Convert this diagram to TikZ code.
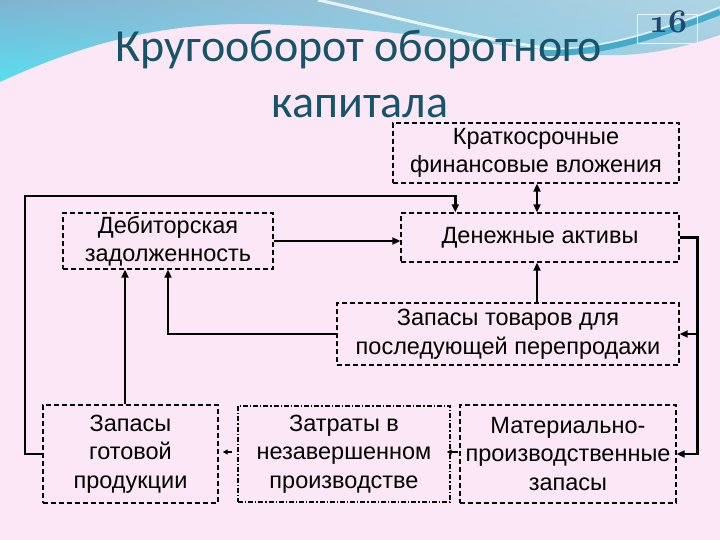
\documentclass[tikz,border=0pt]{standalone}
\usepackage{fontspec}
\usepackage{graphicx}
\setmainfont{Liberation Sans}
\newfontfamily\titlefont{Carlito}
\usetikzlibrary{arrows.meta,shadings}
\definecolor{bgpink}{RGB}{252,231,246}
\definecolor{titleteal}{RGB}{22,85,105}
\definecolor{skyA}{RGB}{128,178,208}
\definecolor{skyB}{RGB}{175,213,228}
\definecolor{skyC}{RGB}{88,222,240}
\definecolor{skyD}{RGB}{160,205,225}
\definecolor{ribbon}{RGB}{70,170,205}
\definecolor{numblue}{RGB}{30,72,112}
\begin{document}
\begin{tikzpicture}[x=1pt,y=-1pt,
  box/.style={draw=black, line width=1.4pt, dash pattern=on 5pt off 3pt,
    align=center, inner sep=0pt, text=black,
    font=\fontsize{23.5}{28.5}\selectfont},
  dotbox/.style={box, dash pattern=on 5pt off 2pt on 1.2pt off 2pt},
  conn/.style={line width=2.8pt, -{Triangle[length=8pt,width=7pt]}},
  conn2/.style={line width=2.8pt, {Triangle[length=8pt,width=7pt]}-{Triangle[length=8pt,width=7pt]}},
  smallarr/.style={line width=1.5pt, -{Triangle[length=5pt,width=5pt]}},
  ttl/.style={font=\titlefont\fontsize{46}{50}\selectfont, text=titleteal, anchor=base, inner sep=0pt}]
\useasboundingbox (0,0) rectangle (720,540);
% background
\fill[bgpink] (0,0) rectangle (720,540);
\shade[upper left=skyA, upper right=skyB, lower left=skyC, lower right=skyD]
  (0,0) -- (720,0) -- (720,35) .. controls (690,45) and (650,57) .. (600,55)
  .. controls (520,50) and (400,28) .. (260,24)
  .. controls (160,22) and (80,45) .. (0,82) -- cycle;
\draw[white, line width=3pt, opacity=0.8] (318,0) .. controls (400,18) and (480,40) .. (560,50);
\draw[ribbon, line width=6pt] (540,53) .. controls (600,55) and (660,35) .. (720,12);
\draw[white, line width=1.5pt, opacity=0.7] (545,49) .. controls (600,50) and (660,31) .. (720,7);
% page number
\node[draw=white!75!skyB, line width=0.8pt, minimum width=60pt, minimum height=29pt, inner sep=0pt] (pg) at (667,28.5) {};
\node[anchor=base, inner sep=0pt, text=numblue, font=\fontsize{10}{12}\usefont{OML}{cmm}{b}{it}] (pgnum) at (668,33) {\scalebox{3.3}{16}};
% title
\node[ttl] (t1) at (359,62) {Кругооборот оборотного};
\node[ttl] (t2) at (360,118) {капитала};
% boxes
\node[box, minimum width=286pt, minimum height=60pt] (kfv) at (536,153) {Краткосрочные\\финансовые вложения};
\node[box, minimum width=278pt, minimum height=49pt] (den) at (540,237.5) {Денежные активы};
\node[box, minimum width=210pt, minimum height=56pt] (deb) at (168,241) {Дебиторская\\задолженность};
\node[box, minimum width=342pt, minimum height=62pt] (zt) at (508,334) {Запасы товаров для\\последующей перепродажи};
\node[box, minimum width=175pt, minimum height=98pt] (zgp) at (130.5,454) {Запасы\\готовой\\продукции};
\node[dotbox, minimum width=212pt, minimum height=96pt] (zat) at (344,454) {Затраты в\\незавершенном\\производстве};
\node[box, minimum width=216pt, minimum height=98pt] (mat) at (568,454) {Материально-\\производственные\\запасы};
% connectors
\draw[conn] (zgp.west) -| (25,196) -| ([xshift=55pt]den.north west);
\draw[conn2] ([xshift=1pt]kfv.south) -- ([xshift=1pt]kfv.south |- den.north);
\draw[conn] (deb.east) -- (deb.east -| den.west);
\coordinate (rbus) at (697,334);
\draw[conn] (den.east) -- ++(18,0) |- (mat.east);
\draw[conn] (rbus) -- (zt.east);
\draw[conn] ([xshift=29pt]zt.north) -- ([xshift=29pt]zt.north |- den.south);
\draw[conn] (zt.west) -| (deb.south);
\draw[conn] ([xshift=-5.5pt]zgp.north) -- ([xshift=-5.5pt]zgp.north |- deb.south);
\draw[smallarr] ([xshift=-5pt,yshift=2pt]zat.west) -- ([xshift=4pt,yshift=2pt]zgp.east);
\draw[smallarr] ([xshift=-1pt,yshift=2pt]mat.west) -- ([xshift=-4pt,yshift=2pt]zat.east);
\end{tikzpicture}
\end{document}
